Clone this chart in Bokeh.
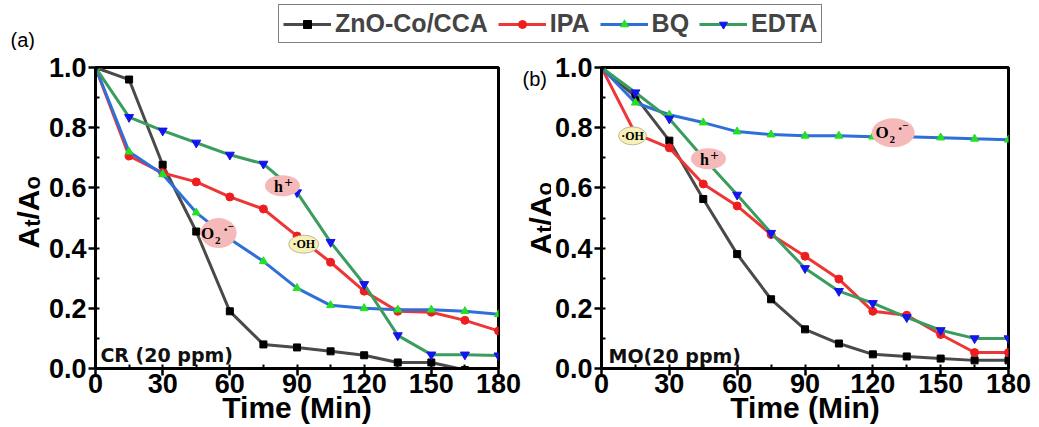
import math
from bokeh.plotting import figure
from bokeh.models import (Range1d, SingleIntervalTicker, PrintfTickFormatter, Label,
                          Legend, LegendItem)
from bokeh.layouts import column, row
from bokeh.embed import file_html
from bokeh.resources import INLINE

# ---------------- data ----------------
time_min = [0, 15, 30, 45, 60, 75, 90, 105, 120, 135, 150, 165, 180]

# (a) CR (20 ppm)
cr_zno = [1.0, 0.96, 0.677, 0.455, 0.19, 0.08, 0.07, 0.057, 0.044, 0.02, 0.02, -0.005, -0.01]
cr_ipa = [1.0, 0.706, 0.65, 0.62, 0.57, 0.53, 0.44, 0.353, 0.257, 0.19, 0.187, 0.16, 0.125]
cr_bq = [1.0, 0.72, 0.645, 0.518, 0.43, 0.356, 0.267, 0.21, 0.2, 0.195, 0.195, 0.19, 0.18]
cr_edta = [1.0, 0.835, 0.79, 0.75, 0.71, 0.68, 0.585, 0.42, 0.28, 0.11, 0.046, 0.046, 0.043]

# (b) MO (20 ppm)
mo_zno = [1.0, 0.903, 0.757, 0.563, 0.38, 0.23, 0.13, 0.083, 0.047, 0.04, 0.033, 0.027, 0.027]
mo_ipa = [1.0, 0.78, 0.733, 0.613, 0.54, 0.445, 0.373, 0.297, 0.19, 0.177, 0.113, 0.053, 0.053]
mo_bq = [1.0, 0.883, 0.843, 0.817, 0.787, 0.777, 0.773, 0.773, 0.77, 0.77, 0.767, 0.763, 0.76]
mo_edta = [1.0, 0.917, 0.83, 0.70, 0.577, 0.45, 0.333, 0.257, 0.217, 0.17, 0.127, 0.1, 0.1]

series_names = ["ZnO-Co/CCA", "IPA", "BQ", "EDTA"]
x_title = "Time (Min)"
x_ticks_interval = 30
y_ticks_interval = 0.2

# annotations (scavenger labels) positions in data units
cr_h_pos = (83.5, 0.607)
cr_o2_pos = (55.0, 0.45)
cr_oh_pos = (93.0, 0.413)
mo_oh_pos = (13.7, 0.773)
mo_h_pos = (47.3, 0.697)
mo_o2_pos = (129.0, 0.783)

# ---------------- styles ----------------
LINE_COL = ["#4a4a4a", "#ee3636", "#2f6fd8", "#3a9d5d"]
MARK_COL = ["#000000", "#ee1e1e", "#22e022", "#1414ee"]
MARKERS = ["square", "circle", "triangle", "inverted_triangle"]
MSIZE = [7, 8, 8, 9]
PINK = "#f5b9b9"
YELLOW = "#f7f1b8"
SANS = "Liberation Sans"
SERIF = "Liberation Serif"
PANEL_H = 377
TOP_B = 17
BOT_B = 59


def add_label(p, x, y, text, size, font=SANS, style="bold", align="center",
              baseline="middle", units="data", xo=0, yo=0, angle=0.0, color="#000000"):
    p.add_layout(Label(x=x, y=y, x_units=units, y_units=units, x_offset=xo, y_offset=yo,
                       text=text, text_font=font, text_font_style=style,
                       text_font_size=f"{size}px", text_align=align,
                       text_baseline=baseline, angle=angle, text_color=color))


def strip(width, height, top=0, bottom=0):
    s = figure(width=width, height=height, x_range=Range1d(0, 1), y_range=Range1d(0, 1),
               output_backend="svg", toolbar_location=None, x_axis_type=None,
               y_axis_type=None, min_border=0, min_border_top=top, min_border_bottom=bottom)
    s.grid.visible = False
    s.outline_line_color = None
    return s


def y_title(p, xb, y0, big=30, small=22):
    widths = {"A": 0.722, "t": 0.333, "/": 0.278, "o": 0.611}
    y = y0
    for ch, sub in [("A", False), ("t", True), ("/", False), ("A", False), ("o", True)]:
        fs = small if sub else big
        add_label(p, xb + (4 if sub else 0), y, ch, fs, align="left", baseline="alphabetic",
                  units="screen", angle=math.pi / 2)
        y += widths[ch] * fs


def o2_ann(p, pos, w, h):
    p.ellipse(x=[pos[0]], y=[pos[1]], width=w, height=h, width_units="screen",
              height_units="screen", fill_color=PINK, line_color=None)
    add_label(p, pos[0], pos[1], "O", 17, font=SERIF, xo=-11, yo=0)
    add_label(p, pos[0], pos[1], "2", 11, font=SERIF, xo=-1, yo=-7)
    add_label(p, pos[0], pos[1], "\u00b7", 16, font=SERIF, xo=7, yo=4)
    add_label(p, pos[0], pos[1], "\u2212", 11, font=SERIF, xo=12, yo=7)


def h_ann(p, pos, w, h):
    p.ellipse(x=[pos[0]], y=[pos[1]], width=w, height=h, width_units="screen",
              height_units="screen", fill_color=PINK, line_color=None)
    add_label(p, pos[0], pos[1], "h", 16, font=SERIF, xo=-4, yo=-1)
    add_label(p, pos[0], pos[1], "+", 15, font=SERIF, xo=6, yo=4)


def oh_ann(p, pos, w, h):
    p.ellipse(x=[pos[0]], y=[pos[1]], width=w, height=h, width_units="screen",
              height_units="screen", fill_color=YELLOW, line_color="#b0a880", line_width=0.8)
    add_label(p, pos[0], pos[1], "\u00b7OH", 12, font=SERIF, xo=0, yo=0)


def panel(width, left, right, data):
    p = figure(width=width, height=PANEL_H, x_range=Range1d(0, 180), y_range=Range1d(0, 1.0),
               output_backend="svg", toolbar_location=None,
               min_border_left=left, min_border_right=right, min_border_top=TOP_B,
               min_border_bottom=BOT_B)
    p.grid.visible = False
    p.outline_line_color = "black"
    p.outline_line_width = 3
    p.xaxis.ticker = SingleIntervalTicker(interval=x_ticks_interval, num_minor_ticks=2)
    p.yaxis.ticker = SingleIntervalTicker(interval=y_ticks_interval, num_minor_ticks=2)
    p.yaxis.formatter = PrintfTickFormatter(format="%.1f")
    for ax in (p.xaxis[0], p.yaxis[0]):
        ax.axis_line_width = 3
        ax.major_tick_line_width = 2.5
        ax.major_tick_out = 7
        ax.major_tick_in = 0
        ax.minor_tick_in = 4
        ax.minor_tick_out = 0
        ax.minor_tick_line_width = 2
        ax.major_label_text_font = SANS
        ax.major_label_text_font_style = "bold"
        ax.major_label_text_font_size = "27px"
        ax.major_label_text_color = "black"
    p.xaxis.major_label_standoff = -2
    p.yaxis.major_label_standoff = 2
    p.xaxis.axis_label = x_title
    p.xaxis.axis_label_standoff = -5
    p.xaxis.axis_label_text_font = SANS
    p.xaxis.axis_label_text_font_style = "bold"
    p.xaxis.axis_label_text_font_size = "30px"
    p.xaxis.axis_label_text_color = "black"
    for i, ys in enumerate(data):
        p.line(time_min, ys, line_color=LINE_COL[i], line_width=3)
        p.scatter(time_min, ys, marker=MARKERS[i], size=MSIZE[i], fill_color=MARK_COL[i],
                  line_color=MARK_COL[i])
    return p


# ---------------- y-title strip (a) ----------------
ya = strip(45, PANEL_H, TOP_B, BOT_B)
y_title(ya, 28, 120)

# ---------------- panel (a) ----------------
pa = panel(477, 50, 24, [cr_zno, cr_ipa, cr_bq, cr_edta])
h_ann(pa, cr_h_pos, 35, 21)
o2_ann(pa, cr_o2_pos, 36, 30)
oh_ann(pa, cr_oh_pos, 30, 18)
add_label(pa, 2.2, 0.045, "CR (20 ppm)", 19, font="DejaVu Sans", align="left",
          baseline="alphabetic", color="#111111")

# ---------------- y-title strip (b) ----------------
yb = strip(29, PANEL_H, TOP_B, BOT_B)
y_title(yb, 18, 114)
add_label(yb, 0, 290, "(b)", 20, style="normal", align="left", units="screen")

# ---------------- panel (b) ----------------
pb = panel(488, 50, 31, [mo_zno, mo_ipa, mo_bq, mo_edta])
oh_ann(pb, mo_oh_pos, 28, 18)
h_ann(pb, mo_h_pos, 35, 21)
o2_ann(pb, mo_o2_pos, 43, 29)
add_label(pb, 3.1, 0.042, "MO(20 ppm)", 19, font="DejaVu Sans", align="left",
          baseline="alphabetic", color="#111111")

# ---------------- legend strip ----------------
lf = figure(width=1039, height=50, x_range=Range1d(500, 501), y_range=Range1d(500, 501),
            output_backend="svg", toolbar_location=None, x_axis_type=None, y_axis_type=None,
            min_border=0)
lf.grid.visible = False
lf.outline_line_color = None
items = []
for i, (name, ys) in enumerate(zip(series_names, [cr_zno, cr_ipa, cr_bq, cr_edta])):
    rl = lf.line(x=time_min, y=ys, line_color=LINE_COL[i], line_width=3)
    rs = lf.scatter(x=time_min, y=ys, marker=MARKERS[i], size=MSIZE[i],
                    fill_color=MARK_COL[i], line_color=MARK_COL[i])
    items.append(LegendItem(label=name, renderers=[rl, rs]))
legend = Legend(items=items, orientation="horizontal", location=(278, 7),
                glyph_width=48, glyph_height=20, label_standoff=4, spacing=10, padding=4,
                margin=0, border_line_color="black", border_line_width=1.5,
                label_text_font=SANS, label_text_font_style="bold",
                label_text_font_size="25px", background_fill_color="white")
lf.add_layout(legend)
add_label(lf, 10, 11, "(a)", 20, style="normal", align="left", units="screen")

layout = column(lf, row(ya, pa, yb, pb))
open("out.html", "w").write(file_html(layout, INLINE))
